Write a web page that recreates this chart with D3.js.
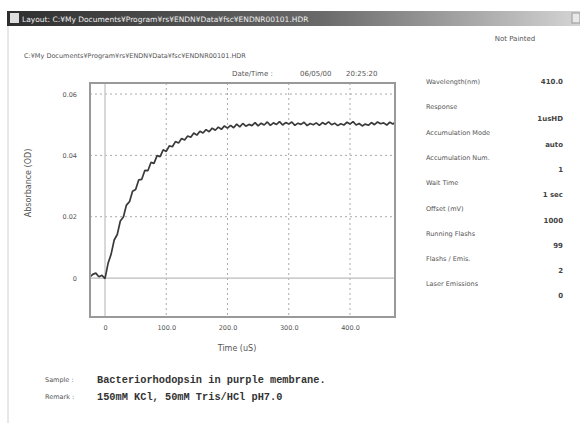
<!DOCTYPE html>
<html>
<head>
<meta charset="utf-8">
<script src="https://d3js.org/d3.v7.min.js"></script>
<style>
  body { margin: 0; background: #fff; }
  text { font-family: "DejaVu Sans", sans-serif; }
</style>
</head>
<body>
<script>
// trace: time (us) and absorbance (OD)
var times = [-25,-20,-15,-10,-5,0,5,10,15,20,25,30,35,40,45,50,55,60,65,70,75,80,85,90,95,
  100,105,110,115,120,125,130,135,140,145,150,155,160,165,170,175,180,185,190,195,
  200,205,210,215,220,225,230,235,240,245,250,255,260,265,270,275,280,285,290,295,
  300,305,310,315,320,325,330,335,340,345,350,355,360,365,370,375,380,385,390,395,
  400,405,410,415,420,425,430,435,440,445,450,455,460,465,470,475];
var absorb = [0.0003,0.0012,0.0016,0.0004,0.0009,-0.0002,0.0048,0.0078,0.0124,0.0142,
  0.0186,0.0199,0.0238,0.0249,0.0283,0.0289,0.0320,0.0322,0.0351,0.0350,
  0.0377,0.0374,0.0399,0.0396,0.0418,0.0413,0.0431,0.0428,0.0445,0.0440,
  0.0455,0.0450,0.0463,0.0459,0.0473,0.0466,0.0479,0.0473,0.0484,0.0477,
  0.0489,0.0482,0.0492,0.0485,0.0496,0.0489,0.0498,0.0490,0.0502,0.0493,
  0.0504,0.0495,0.0501,0.0497,0.0507,0.0496,0.0505,0.0499,0.0509,0.0498,
  0.0506,0.0501,0.0510,0.0499,0.0507,0.0502,0.0509,0.0498,0.0505,0.0501,
  0.0508,0.0497,0.0504,0.0500,0.0506,0.0498,0.0507,0.0501,0.0509,0.0500,
  0.0505,0.0497,0.0503,0.0499,0.0508,0.0502,0.0510,0.0499,0.0504,0.0496,
  0.0502,0.0498,0.0507,0.0500,0.0509,0.0503,0.0506,0.0499,0.0508,0.0502,0.0510];

var xTicks = [0, 100, 200, 300, 400];
var xTickLabels = ["0", "100.0", "200.0", "300.0", "400.0"];
var yTicks = [0, 0.02, 0.04, 0.06];
var yTickLabels = ["0", "0.02", "0.04", "0.06"];

var paramNames = ["Wavelength(nm)", "Response", "Accumulation Mode", "Accumulation Num.",
  "Wait Time", "Offset (mV)", "Running Flashs", "Flashs / Emis.", "Laser Emissions"];
var paramValues = ["410.0", "1usHD", "auto", "1", "1 sec", "1000", "99", "2", "0"];

var svg = d3.select("body").append("svg")
  .attr("width", 580).attr("height", 423);

// window frame
var grad = svg.append("defs").append("linearGradient").attr("id", "tb");
grad.append("stop").attr("offset", "0%").attr("stop-color", "#2e2e2e");
grad.append("stop").attr("offset", "55%").attr("stop-color", "#6a6a6a");
grad.append("stop").attr("offset", "100%").attr("stop-color", "#d4d4d4");
svg.append("rect").attr("x", 7).attr("y", 11).attr("width", 573).attr("height", 15)
  .attr("fill", "url(#tb)");
svg.append("rect").attr("x", 10).attr("y", 13).attr("width", 9).attr("height", 10)
  .attr("fill", "#ddd");
svg.append("text").attr("x", 22).attr("y", 22).attr("font-size", 7.5).attr("fill", "#eee")
  .text("Layout: C:\u00a5My Documents\u00a5Program\u00a5rs\u00a5ENDN\u00a5Data\u00a5fsc\u00a5ENDNR00101.HDR");
svg.append("rect").attr("x", 572).attr("y", 13).attr("width", 8).attr("height", 10)
  .attr("fill", "#e8e8e8").attr("stroke", "#999");
svg.append("line").attr("x1", 8).attr("x2", 8).attr("y1", 26).attr("y2", 423)
  .attr("stroke", "#d0d0d0");

svg.append("text").attr("x", 515).attr("y", 41).attr("font-size", 7).attr("fill", "#555")
  .attr("text-anchor", "middle").text("Not Painted");
svg.append("text").attr("x", 24).attr("y", 58).attr("font-size", 6.5).attr("fill", "#555")
  .text("C:\u00a5My Documents\u00a5Program\u00a5rs\u00a5ENDN\u00a5Data\u00a5fsc\u00a5ENDNR00101.HDR");

svg.append("text").attr("x", 232).attr("y", 76).attr("font-size", 7).attr("fill", "#555")
  .text("Date/Time :");
svg.append("text").attr("x", 300).attr("y", 76).attr("font-size", 7).attr("fill", "#555")
  .text("06/05/00");
svg.append("text").attr("x", 346).attr("y", 76).attr("font-size", 7).attr("fill", "#555")
  .text("20:25:20");

// plot
var x = d3.scaleLinear().domain([-24.5, 473.5]).range([90, 395]);
var y = d3.scaleLinear().domain([-0.0127, 0.0636]).range([317, 83]);

var grid = svg.append("g");
grid.selectAll(".vg").data(xTicks.filter(d => d !== 0)).enter().append("line")
  .attr("x1", d => x(d)).attr("x2", d => x(d)).attr("y1", 83).attr("y2", 317)
  .attr("stroke", "#aaa").attr("stroke-dasharray", "2,3");
grid.selectAll(".hg").data(yTicks.filter(d => d !== 0)).enter().append("line")
  .attr("x1", 90).attr("x2", 395).attr("y1", d => y(d)).attr("y2", d => y(d))
  .attr("stroke", "#aaa").attr("stroke-dasharray", "2,3");
grid.append("line").attr("x1", 90).attr("x2", 395).attr("y1", y(0)).attr("y2", y(0))
  .attr("stroke", "#bbb").attr("stroke-width", 1.2);
grid.append("line").attr("x1", x(0)).attr("x2", x(0)).attr("y1", 83).attr("y2", 317)
  .attr("stroke", "#ccc").attr("stroke-width", 1.5);

svg.append("clipPath").attr("id", "clip").append("rect")
  .attr("x", 90).attr("y", 83).attr("width", 305).attr("height", 234);
var line = d3.line().x((d, i) => x(times[i])).y(d => y(d));
svg.append("path").datum(absorb).attr("d", line).attr("clip-path", "url(#clip)")
  .attr("fill", "none").attr("stroke", "#3a3a3a").attr("stroke-width", 1.7)
  .attr("stroke-linejoin", "bevel");

svg.append("rect").attr("x", 90).attr("y", 83).attr("width", 305).attr("height", 234)
  .attr("fill", "none").attr("stroke", "#999").attr("stroke-width", 2);

// axes labels
var xAxis = d3.axisBottom(x).tickValues(xTicks).tickSize(0)
  .tickFormat((d, i) => xTickLabels[i]);
var gx = svg.append("g").attr("transform", "translate(0,322)").call(xAxis);
gx.select(".domain").remove();
gx.selectAll("text").attr("font-size", 6.5).attr("fill", "#555");

var yAxis = d3.axisLeft(y).tickValues(yTicks).tickSize(0)
  .tickFormat((d, i) => yTickLabels[i]);
var gy = svg.append("g").attr("transform", "translate(80,0)").call(yAxis);
gy.select(".domain").remove();
gy.selectAll("text").attr("font-size", 6.5).attr("fill", "#555");

svg.append("text").attr("x", 237).attr("y", 351).attr("font-size", 8).attr("fill", "#555")
  .attr("text-anchor", "middle").text("Time (uS)");
svg.append("text").attr("transform", "translate(31,183) rotate(-90)")
  .attr("font-size", 8).attr("fill", "#555").attr("text-anchor", "middle")
  .text("Absorbance (OD)");

// parameter panel
paramNames.forEach(function(n, i) {
  svg.append("text").attr("x", 426).attr("y", 84 + i * 25.3).attr("font-size", 6.5)
    .attr("fill", "#555").text(n);
  svg.append("text").attr("x", 563).attr("y", (i === 0 ? 84 : 96) + i * 25.3)
    .attr("font-size", 7).attr("font-weight", "bold").attr("fill", "#444")
    .attr("text-anchor", "end").text(paramValues[i]);
});

// sample / remark
svg.append("text").attr("x", 45).attr("y", 382).attr("font-size", 6.5).attr("fill", "#555")
  .text("Sample :");
svg.append("text").attr("x", 45).attr("y", 399).attr("font-size", 6.5).attr("fill", "#555")
  .text("Remark :");
svg.append("text").attr("x", 97).attr("y", 383).attr("font-size", 10.3).attr("font-weight", "bold")
  .attr("fill", "#333").style("font-family", "'Liberation Mono', monospace")
  .text("Bacteriorhodopsin in purple membrane.");
svg.append("text").attr("x", 97).attr("y", 400).attr("font-size", 10.3).attr("font-weight", "bold")
  .attr("fill", "#333").style("font-family", "'Liberation Mono', monospace")
  .text("150mM KCl, 50mM Tris/HCl pH7.0");
</script>
</body>
</html>
